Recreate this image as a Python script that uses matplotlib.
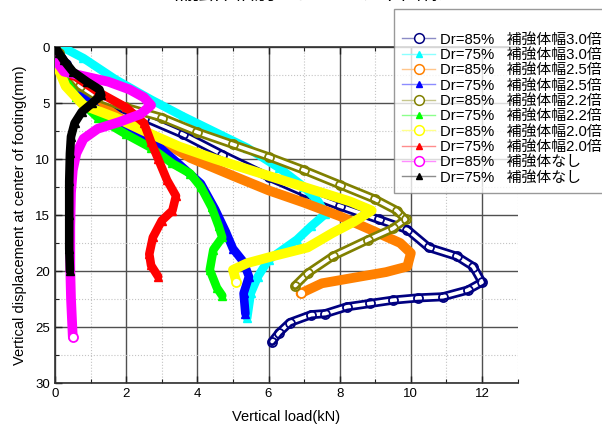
import matplotlib
matplotlib.use('Agg')
import matplotlib.pyplot as plt
from matplotlib.lines import Line2D
from matplotlib.ticker import MultipleLocator
import matplotlib.colors as mcolors

# ---------------- data ----------------
dr_labels = ['Dr=85%', 'Dr=75%', 'Dr=85%', 'Dr=75%', 'Dr=85%',
             'Dr=75%', 'Dr=85%', 'Dr=75%', 'Dr=85%', 'Dr=75%']
case_labels = ['補強体幅3.0倍', '補強体幅3.0倍', '補強体幅2.5倍', '補強体幅2.5倍',
               '補強体幅2.2倍', '補強体幅2.2倍', '補強体幅2.0倍', '補強体幅2.0倍',
               '補強体なし', '補強体なし']

navy_load = [0.0, 0.3, 0.8, 1.5, 2.5, 3.6, 4.7, 6.0, 7.0, 8.0, 9.1, 9.9, 10.5,
             11.3, 11.75, 12.0, 11.6, 10.9, 10.2, 9.5, 8.85, 8.2, 7.6, 7.2,
             6.6, 6.3, 6.1]
navy_disp = [0.0, 1.5, 3.5, 5.0, 6.3, 7.8, 9.6, 11.6, 13.0, 14.2, 15.4, 16.3,
             17.9, 18.7, 19.6, 21.0, 21.7, 22.3, 22.4, 22.6, 22.9, 23.2, 23.8,
             23.9, 24.6, 25.5, 26.3]

cyan_load = [0.2, 0.8, 1.7, 2.7, 3.6, 4.5, 5.4, 6.3, 7.0, 7.4, 7.6, 7.2, 6.8,
             6.0, 5.7, 5.5, 5.4]
cyan_disp = [0.0, 1.0, 2.9, 4.7, 6.2, 7.6, 9.0, 10.8, 12.5, 13.8, 14.9, 16.0,
             17.2, 19.0, 20.5, 22.0, 24.2]

orange_load = [0.0, 0.4, 1.0, 1.8, 2.8, 3.8, 5.0, 6.0, 7.0, 8.0, 9.0, 9.7,
               10.0, 9.9, 9.3, 8.4, 7.5, 6.9]
orange_disp = [0.5, 2.5, 4.5, 6.3, 8.0, 9.9, 11.5, 12.8, 13.9, 15.1, 16.5,
               17.5, 18.4, 19.6, 20.1, 20.6, 21.1, 22.0]

blue_load = [0.0, 0.3, 0.8, 1.5, 2.7, 3.5, 4.1, 4.5, 4.8, 5.0, 5.3, 5.45, 5.3,
             5.35]
blue_disp = [0.5, 2.5, 4.5, 6.5, 8.3, 10.5, 12.2, 14.5, 16.5, 18.0, 19.2,
             20.5, 22.0, 23.8]

olive_load = [0.0, 0.1, 0.3, 0.7, 1.2, 2.0, 3.0, 4.0, 5.0, 6.0, 7.0, 8.0, 9.0,
              9.6, 9.85, 9.5, 8.8, 7.8, 7.1, 6.75]
olive_disp = [0.0, 0.5, 2.0, 3.5, 4.5, 5.4, 6.3, 7.6, 8.7, 9.8, 11.0, 12.3,
              13.6, 14.6, 15.4, 16.2, 17.2, 18.7, 20.2, 21.3]

green_load = [0.0, 0.2, 0.6, 1.2, 2.0, 2.7, 3.3, 3.8, 4.1, 4.4, 4.6, 4.7,
              4.45, 4.35, 4.55, 4.7]
green_disp = [0.5, 2.5, 4.5, 6.3, 7.8, 9.0, 10.4, 11.3, 12.5, 14.3, 16.0,
              17.0, 18.1, 19.9, 21.5, 22.2]

yellow_load = [0.0, 0.1, 0.3, 0.8, 1.7, 2.5, 3.5, 4.5, 5.5, 6.5, 7.5, 8.3,
               8.9, 8.4, 7.8, 7.1, 6.1, 5.4, 5.0, 5.1]
yellow_disp = [0.5, 2.0, 3.5, 5.2, 6.3, 7.5, 8.9, 10.0, 11.0, 12.0, 13.0,
               13.8, 14.6, 15.6, 16.6, 17.9, 18.7, 19.3, 19.9, 21.0]

red_load = [0.0, 0.2, 0.5, 1.2, 2.0, 2.5, 2.7, 2.9, 3.15, 3.4, 3.3, 3.0, 2.75,
            2.65, 2.7, 2.9]
red_disp = [0.5, 1.5, 2.5, 4.0, 5.4, 6.8, 8.5, 10.0, 11.9, 13.3, 14.6, 15.5,
            17.0, 18.5, 19.5, 20.5]

magenta_load = [0.0, 0.0, 0.05, 0.25, 0.8, 1.5, 2.1, 2.5, 2.7, 2.4, 1.8, 1.2,
                0.8, 0.6, 0.5, 0.45, 0.43, 0.43, 0.45, 0.5]
magenta_disp = [0.0, 0.5, 1.3, 2.2, 2.6, 3.1, 3.8, 4.5, 5.2, 6.0, 6.7, 7.3,
                8.2, 9.5, 11.0, 13.0, 16.0, 20.0, 22.5, 25.9]

black_load = [0.0, 0.1, 0.25, 0.5, 0.9, 1.25, 1.3, 1.05, 0.75, 0.55, 0.45,
              0.42, 0.4, 0.4, 0.4, 0.42]
black_disp = [0.0, 0.5, 1.2, 2.2, 3.1, 3.8, 4.3, 5.0, 5.8, 6.8, 8.0, 9.5,
              12.0, 15.0, 18.0, 20.0]

x_ticks = [0, 2, 4, 6, 8, 10, 12]
y_ticks = [0, 5, 10, 15, 20, 25, 30]

# ---------------- styling ----------------
colors = ['#000080', '#00FFFF', '#FF8000', '#0000FF', '#808000',
          '#00FF00', '#FFFF00', '#FF0000', '#FF00FF', '#000000']
markers = ['o', '^', 'o', '^', 'o', '^', 'o', '^', 'o', '^']
series = [(navy_load, navy_disp), (cyan_load, cyan_disp),
          (orange_load, orange_disp), (blue_load, blue_disp),
          (olive_load, olive_disp), (green_load, green_disp),
          (yellow_load, yellow_disp), (red_load, red_disp),
          (magenta_load, magenta_disp), (black_load, black_disp)]
# band style: 'tube' = band of open circles, 'solid' = dense band
styles = ['tube', 'solid', 'solid', 'solid', 'tube',
          'solid', 'solid', 'solid', 'solid', 'solid']

fig = plt.figure(figsize=(6.02, 4.29), dpi=100)
ax = fig.add_axes([55/602, 1-383/429, (517.6-55)/602, (383-47)/429])

rk = dict(solid_capstyle='round', solid_joinstyle='round')
for i, ((xs, ys), c, m, st) in enumerate(zip(series, colors, markers, styles)):
    z = 3 + i
    if st == 'tube':
        ax.plot(xs, ys, color=c, lw=6.5, zorder=z, **rk)
        ax.plot(xs, ys, color='white', lw=2.6, zorder=z, **rk)
        ax.plot(xs, ys, ls='none', marker='o', ms=6.5, mfc='none',
                mec=c, mew=1.3, zorder=z)
    elif m == 'o':
        ax.plot(xs, ys, color=c, lw=7.0, zorder=z, **rk)
        ax.plot(xs[-1:], ys[-1:], ls='none', marker='o', ms=6.5,
                mfc='white', mec=c, mew=1.3, zorder=z)
    else:
        ax.plot(xs, ys, color=c, lw=6.2, zorder=z, **rk)
        ax.plot(xs, ys, ls='none', marker='^', ms=6, mfc=c, mec=c, zorder=z)

ax.set_xlim(0, 13)
ax.set_ylim(30, 0)
ax.set_xticks(x_ticks)
ax.set_yticks(y_ticks)
ax.xaxis.set_minor_locator(MultipleLocator(1))
ax.yaxis.set_minor_locator(MultipleLocator(2.5))
ax.set_axisbelow(True)
ax.grid(which='major', color='#505050', lw=1.0, ls='-')
ax.grid(which='minor', color='#c4c4c4', lw=0.8, ls=':')
ax.tick_params(which='both', direction='in', top=True, right=False,
               colors='#202020', labelsize=9.5, labelcolor='black')
ax.tick_params(which='major', length=5, width=1)
ax.tick_params(which='minor', length=3, width=0.8)
for lab in ax.get_xticklabels() + ax.get_yticklabels():
    lab.set_family('Liberation Sans')
ax.spines['right'].set_visible(False)
for s in ['left', 'bottom', 'top']:
    ax.spines[s].set_color('#303030')
    ax.spines[s].set_linewidth(1.2)

ax.set_xlabel('Vertical load(kN)', fontsize=10.5, family='Liberation Sans',
              labelpad=7)
ax.set_ylabel('Vertical displacement at center of footing(mm)', fontsize=10.5,
              family='Liberation Sans', labelpad=6)

# title, cut by the top edge as in the reference
fig.text(0.51, 1 - 4/429, '補強体幅別の荷重－沈下曲線', ha='center', va='bottom',
         fontsize=15, family=['Noto Sans CJK JP', 'DejaVu Sans'])

# legend
handles = []
for c, m in zip(colors, markers):
    light = mcolors.to_rgb(c)
    light = tuple(0.45 * v + 0.55 for v in light)
    if m == 'o':
        h = Line2D([], [], color=light, lw=1.0, marker='o', ms=7,
                   mfc='white', mec=c, mew=1.1)
    else:
        h = Line2D([], [], color=light, lw=1.0, marker='^', ms=5,
                   mfc=c, mec=c)
    handles.append(h)
labels = [f'{d}   {k}' for d, k in zip(dr_labels, case_labels)]
leg = fig.legend(handles, labels, loc='upper left',
                 bbox_to_anchor=(394/602, 1 - 9/429), borderaxespad=0,
                 prop={'family': ['Liberation Sans', 'Noto Sans CJK JP'],
                       'size': 10.7},
                 frameon=True, fancybox=False, edgecolor='#808080',
                 handlelength=2.2, handletextpad=0.35, labelspacing=0.09,
                 borderpad=0.55, title=' ', title_fontsize=10)
leg.get_frame().set_linewidth(1.0)

fig.savefig('out.png', dpi=100)
